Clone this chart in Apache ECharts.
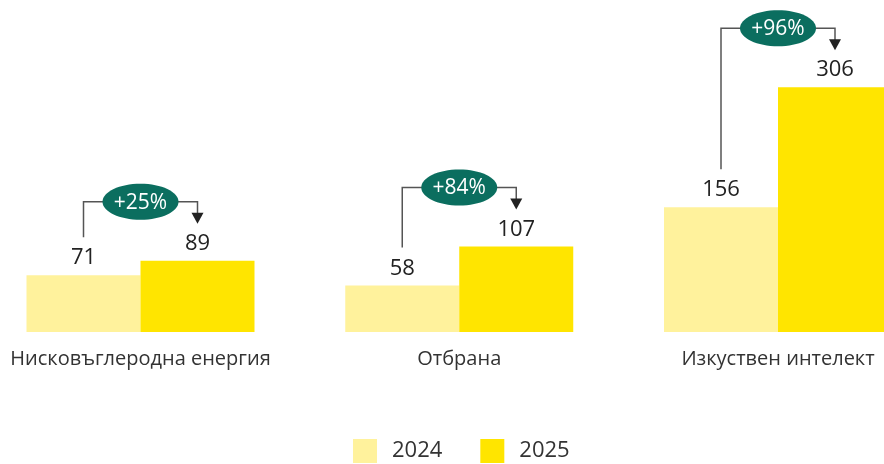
<!DOCTYPE html>
<html>
<head>
<meta charset="utf-8">
<script src="https://cdn.jsdelivr.net/npm/echarts@6/dist/echarts.min.js"></script>
<style>html,body{margin:0;padding:0;background:#fff;}#c{width:884px;height:464px;}</style>
</head>
<body>
<div id="c"></div>
<script>
const categories = ['Нисковъглеродна енергия', 'Отбрана', 'Изкуствен интелект'];
const values2024 = [71, 58, 156];
const values2025 = [89, 107, 306];
const changeLabels = ['+25%', '+84%', '+96%'];
const seriesNames = ['2024', '2025'];

const FONT = '"Open Sans", "Noto Sans", sans-serif';
const BAR_W = 114;

const annData = categories.map((c, i) => [i, values2024[i], values2025[i], changeLabels[i]]);

const chart = echarts.init(document.getElementById('c'), null, {renderer: 'canvas'});
chart.setOption({
  backgroundColor: '#ffffff',
  animation: false,
  grid: {left: 140.5, right: 106, top: 12, bottom: 132},
  legend: {
    left: 348, top: 434,
    itemWidth: 24, itemHeight: 24, itemGap: 38,
    icon: 'rect',
    textStyle: {fontFamily: FONT, fontSize: 22, color: '#333', padding: [0, 0, 0, 10]},
    data: seriesNames
  },
  xAxis: {
    type: 'category', data: categories, boundaryGap: false,
    axisLine: {show: false}, axisTick: {show: false},
    axisLabel: {interval: 0, fontFamily: FONT, fontSize: 20, color: '#333', margin: 17}
  },
  yAxis: {type: 'value', min: 0, max: 400, show: false, splitLine: {show: false}},
  series: [
    {
      name: seriesNames[0], type: 'bar', data: values2024, barWidth: BAR_W, barGap: '0%', clip: false,
      itemStyle: {color: '#FFF29C'},
      label: {show: true, position: 'top', distance: 6, fontFamily: FONT, fontSize: 22, color: '#222'}
    },
    {
      name: seriesNames[1], type: 'bar', data: values2025, barWidth: BAR_W, barGap: '0%', clip: false,
      itemStyle: {color: '#FFE500'},
      label: {show: true, position: 'top', distance: 6, fontFamily: FONT, fontSize: 22, color: '#222'}
    },
    {
      type: 'custom', data: annData, encode: {x: 0, y: 2}, silent: true, z: 10, clip: false,
      renderItem: function (params, api) {
        const idx = api.value(0);
        const v1 = api.value(1), v2 = api.value(2);
        const lbl = changeLabels[idx];
        const p1 = api.coord([idx, v1]);
        const p2 = api.coord([idx, v2]);
        const cx = p1[0];
        const x1 = cx - BAR_W / 2, x2 = cx + BAR_W / 2;
        const bracketY = p2[1] - 59;
        const startY = p1[1] - 38;
        const tipY = p2[1] - 37;
        return {
          type: 'group',
          children: [
            {type: 'polyline', shape: {points: [[x1, startY], [x1, bracketY], [x2, bracketY], [x2, tipY - 8]]},
             style: {stroke: '#555', lineWidth: 1.5, fill: null}},
            {type: 'polygon', shape: {points: [[x2 - 6, tipY - 11], [x2 + 6, tipY - 11], [x2, tipY]]},
             style: {fill: '#222'}},
            {type: 'ellipse', shape: {cx: cx, cy: bracketY, rx: 38, ry: 18},
             style: {fill: '#0B6E5F'}},
            {type: 'text', x: cx, y: bracketY + 1,
             style: {text: lbl, fill: '#fff', font: '21px ' + FONT, align: 'center', verticalAlign: 'middle'}}
          ]
        };
      }
    }
  ]
});
</script>
</body>
</html>
